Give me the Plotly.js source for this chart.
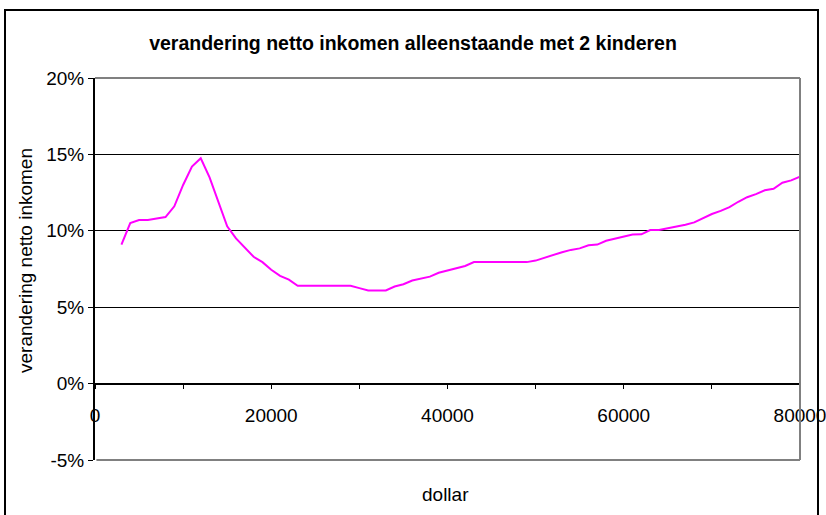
<!DOCTYPE html>
<html>
<head>
<meta charset="utf-8">
<script src="https://cdn.plot.ly/plotly-3.0.1.min.js"></script>
<style>html,body{margin:0;padding:0;background:#fff;}#chart{width:826px;height:515px;}</style>
</head>
<body>
<div id="chart"></div>
<script>
const dollar = [3000,4000,5000,6000,7000,8000,9000,10000,11000,12000,13000,14000,15000,16000,17000,18000,19000,20000,
  21000,22000,23000,24000,25000,26000,27000,28000,29000,30000,31000,32000,33000,34000,35000,36000,37000,38000,39000,40000,
  41000,42000,43000,44000,45000,46000,47000,48000,49000,50000,51000,52000,53000,54000,55000,56000,57000,58000,59000,60000,
  61000,62000,63000,64000,65000,66000,67000,68000,69000,70000,71000,72000,73000,74000,75000,76000,77000,78000,79000,80000];
const verandering = [9.1,10.5,10.7,10.7,10.8,10.9,11.6,13.0,14.2,14.75,13.5,11.9,10.3,9.5,8.9,8.3,7.95,7.45,
  7.05,6.8,6.4,6.4,6.4,6.4,6.4,6.4,6.4,6.25,6.1,6.1,6.1,6.35,6.5,6.75,6.9,7.0,7.25,7.4,
  7.55,7.7,7.95,7.95,7.95,7.95,7.95,7.95,7.95,8.05,8.25,8.45,8.6,8.75,8.85,9.05,9.1,9.35,9.5,9.65,
  9.75,9.77,10.05,10.05,10.15,10.3,10.4,10.55,10.85,11.1,11.3,11.55,11.9,12.2,12.4,12.65,12.75,13.15,13.3,13.55];
const yTickValues = [-5, 0, 5, 10, 15, 20];
const yTickLabels = ['-5%', '0%', '5%', '10%', '15%', '20%'];
const chartTitle = 'verandering netto inkomen alleenstaande met 2 kinderen';
const yTitle = 'verandering netto inkomen';
const xTitle = 'dollar';

const F = 'Liberation Sans, Arial, sans-serif';

const trace = {
  x: dollar, y: verandering, type: 'scatter', mode: 'lines',
  line: {color: '#ff00ff', width: 2}, hoverinfo: 'skip'
};

const layout = {
  width: 826, height: 515,
  margin: {l: 95, r: 26, t: 78, b: 55},
  paper_bgcolor: '#ffffff', plot_bgcolor: '#ffffff',
  showlegend: false,
  font: {family: F, color: '#000', size: 19},
  title: {text: chartTitle, font: {family: F, size: 19.5, color: '#000', weight: 'bold'},
          x: 413/826, xanchor: 'center', xref: 'container', y: 1 - 43/515, yanchor: 'middle', yref: 'container'},
  xaxis: {
    range: [0, 80000], dtick: 20000, tick0: 0, tickformat: 'd', anchor: 'free', position: 0.2,
    showline: true, linecolor: '#000', linewidth: 2,
    ticks: 'outside', ticklen: 4, tickcolor: '#000', tickwidth: 1,
    minor: {dtick: 10000, ticks: 'outside', ticklen: 4, tickcolor: '#000', tickwidth: 1, showgrid: false},
    showgrid: false, zeroline: false, ticklabelstandoff: 11, ticklabeloverflow: 'allow',
    tickfont: {family: F, size: 19, color: '#000'}, fixedrange: true
  },
  yaxis: {
    range: [-5, 20], tickmode: 'array', tickvals: yTickValues, ticktext: yTickLabels,
    showline: true, linecolor: '#000', linewidth: 2,
    ticks: 'outside', ticklen: 5, tickcolor: '#000',
    showgrid: true, gridcolor: '#000', gridwidth: 1,
    zeroline: false,
    tickfont: {family: F, size: 19, color: '#000'}, fixedrange: true
  },
  shapes: [
    {type: 'line', xref: 'paper', yref: 'paper', x0: 0, x1: 1, y0: 1, y1: 1, line: {color: '#808080', width: 2}, layer: 'above'},
    {type: 'line', xref: 'paper', yref: 'paper', x0: 1, x1: 1, y0: 0, y1: 1, line: {color: '#808080', width: 2}, layer: 'above'},
    {type: 'line', xref: 'paper', yref: 'paper', x0: 0.002, x1: 1, y0: 0, y1: 0, line: {color: '#808080', width: 2}, layer: 'above'},
    {type: 'rect', xref: 'paper', yref: 'paper', x0: (5-95)/705, x1: (818-95)/705, y0: (460-525)/382, y1: (460-10)/382,
     line: {color: '#000', width: 2}, fillcolor: 'rgba(0,0,0,0)', layer: 'above'}
  ],
  annotations: [
    {text: yTitle, xref: 'paper', yref: 'paper', x: (25-95)/705, y: (460-261)/382, textangle: -90,
     showarrow: false, xanchor: 'center', yanchor: 'middle', font: {family: F, size: 19, color: '#000'}},
    {text: xTitle, xref: 'paper', yref: 'paper', x: (445-95)/705, y: (460-495)/382,
     showarrow: false, xanchor: 'center', yanchor: 'middle', font: {family: F, size: 19, color: '#000'}}
  ]
};

Plotly.newPlot('chart', [trace], layout, {staticPlot: true, displayModeBar: false});
</script>
</body>
</html>
